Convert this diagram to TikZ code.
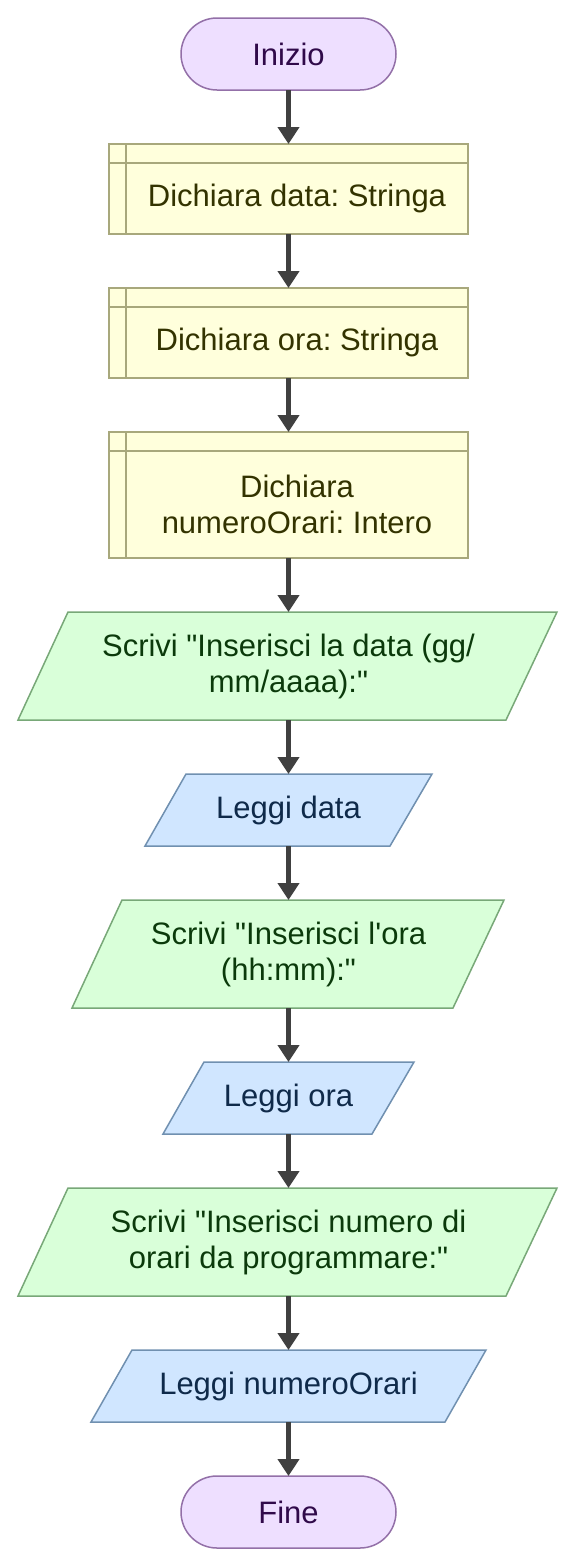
\documentclass[tikz,border=0pt]{standalone}
\usepackage{fontspec}
\setmainfont{Liberation Sans}
\frenchspacing
\usetikzlibrary{arrows.meta,calc}
\definecolor{termfill}{HTML}{EEDFFF}
\definecolor{termdraw}{HTML}{9370A8}
\definecolor{termtext}{HTML}{300A4A}
\definecolor{decfill}{HTML}{FFFFDC}
\definecolor{decdraw}{HTML}{A8A87C}
\definecolor{dectext}{HTML}{333300}
\definecolor{outfill}{HTML}{D9FFD9}
\definecolor{outdraw}{HTML}{78A878}
\definecolor{outtext}{HTML}{0B3A0B}
\definecolor{infill}{HTML}{D0E6FF}
\definecolor{indraw}{HTML}{7090B0}
\definecolor{intext}{HTML}{0F2A4A}
\definecolor{arrowc}{HTML}{404040}
\begin{document}
\begin{tikzpicture}[x=1pt,y=-1pt,
  every node/.style={font=\fontsize{31}{36}\selectfont, inner sep=0pt, outer sep=0pt},
  term/.style={draw=termdraw, fill=termfill, text=termtext, line width=1.5pt, rounded corners=36pt, minimum width=215pt, minimum height=72pt},
  decl/.style={draw=decdraw, fill=decfill, line width=1.5pt, minimum width=359pt},
  decltext/.style={text=dectext, align=center},
  outshape/.style={draw=outdraw, fill=outfill, line width=1.5pt},
  inshape/.style={draw=indraw, fill=infill, line width=1.5pt},
  outtxt/.style={text=outtext, align=center},
  intxt/.style={text=intext, align=center},
  conn/.style={draw=arrowc, line width=4.5pt, -{Triangle[length=17pt,width=21pt]}}
]
\useasboundingbox (0,0) rectangle (577,1567);

% Inizio
\node[term] (start) at (288.5,54) {Inizio};

% Declarations
\node[decl, minimum height=90pt] (d1) at (288.5,189) {};
\draw[decdraw, line width=1.5pt] ([yshift=-19pt]d1.north west) -- ([yshift=-19pt]d1.north east);
\draw[decdraw, line width=1.5pt] ([xshift=17pt]d1.north west) -- ([xshift=17pt]d1.south west);
\node[decltext] (d1t) at (297,198.5) {Dichiara data: Stringa};

\node[decl, minimum height=90pt] (d2) at (288.5,333) {};
\draw[decdraw, line width=1.5pt] ([yshift=-19pt]d2.north west) -- ([yshift=-19pt]d2.north east);
\draw[decdraw, line width=1.5pt] ([xshift=17pt]d2.north west) -- ([xshift=17pt]d2.south west);
\node[decltext] (d2t) at (297,342.5) {Dichiara ora: Stringa};

\node[decl, minimum height=126pt] (d3) at (288.5,495) {};
\draw[decdraw, line width=1.5pt] ([yshift=-19pt]d3.north west) -- ([yshift=-19pt]d3.north east);
\draw[decdraw, line width=1.5pt] ([xshift=17pt]d3.north west) -- ([xshift=17pt]d3.south west);
\node[decltext] (d3t) at (297,504.5) {Dichiara\\numeroOrari: Intero};

% Output 1
\node[minimum width=539pt, minimum height=108pt] (p1) at (287.5,666) {};
\draw[outshape] ($(p1.north west)+(50,0)$) -- (p1.north east) -- ($(p1.south east)-(51,0)$) -- (p1.south west) -- cycle;
\node[outtxt] (p1t) at (288.5,666) {Scrivi \textquotedbl Inserisci la data (gg/\\mm/aaaa):\textquotedbl};

% Input 1
\node[minimum width=287pt, minimum height=72pt] (l1) at (288.5,810) {};
\draw[inshape] ($(l1.north west)+(41,0)$) -- (l1.north east) -- ($(l1.south east)-(42,0)$) -- (l1.south west) -- cycle;
\node[intxt] (l1t) at (l1.center) {Leggi data};

% Output 2
\node[minimum width=432pt, minimum height=108pt] (p2) at (288,954) {};
\draw[outshape] ($(p2.north west)+(50,0)$) -- (p2.north east) -- ($(p2.south east)-(51,0)$) -- (p2.south west) -- cycle;
\node[outtxt] (p2t) at (288.5,954) {Scrivi \textquotedbl Inserisci l\textquotesingle ora\\(hh:mm):\textquotedbl};

% Input 2
\node[minimum width=251pt, minimum height=72pt] (l2) at (288.5,1098) {};
\draw[inshape] ($(l2.north west)+(41,0)$) -- (l2.north east) -- ($(l2.south east)-(42,0)$) -- (l2.south west) -- cycle;
\node[intxt] (l2t) at (l2.center) {Leggi ora};

% Output 3
\node[minimum width=539pt, minimum height=108pt] (p3) at (287.5,1242) {};
\draw[outshape] ($(p3.north west)+(50,0)$) -- (p3.north east) -- ($(p3.south east)-(51,0)$) -- (p3.south west) -- cycle;
\node[outtxt] (p3t) at (288.5,1242) {Scrivi \textquotedbl Inserisci numero di\\orari da programmare:\textquotedbl};

% Input 3
\node[minimum width=395pt, minimum height=72pt] (l3) at (288.5,1386) {};
\draw[inshape] ($(l3.north west)+(41,0)$) -- (l3.north east) -- ($(l3.south east)-(41,0)$) -- (l3.south west) -- cycle;
\node[intxt] (l3t) at (l3.center) {Leggi numeroOrari};

% Fine
\node[term] (stop) at (288.5,1512) {Fine};

% Connectors
\draw[conn] (start.south) -- (d1.north);
\draw[conn] (d1.south) -- (d2.north);
\draw[conn] (d2.south) -- (d3.north);
\draw[conn] (d3.south) -- (d3.south |- p1.north);
\draw[conn] (l1.north |- p1.south) -- (l1.north);
\draw[conn] (l1.south) -- (l1.south |- p2.north);
\draw[conn] (l2.north |- p2.south) -- (l2.north);
\draw[conn] (l2.south) -- (l2.south |- p3.north);
\draw[conn] (l3.north |- p3.south) -- (l3.north);
\draw[conn] (l3.south) -- (stop.north);
\end{tikzpicture}
\end{document}
